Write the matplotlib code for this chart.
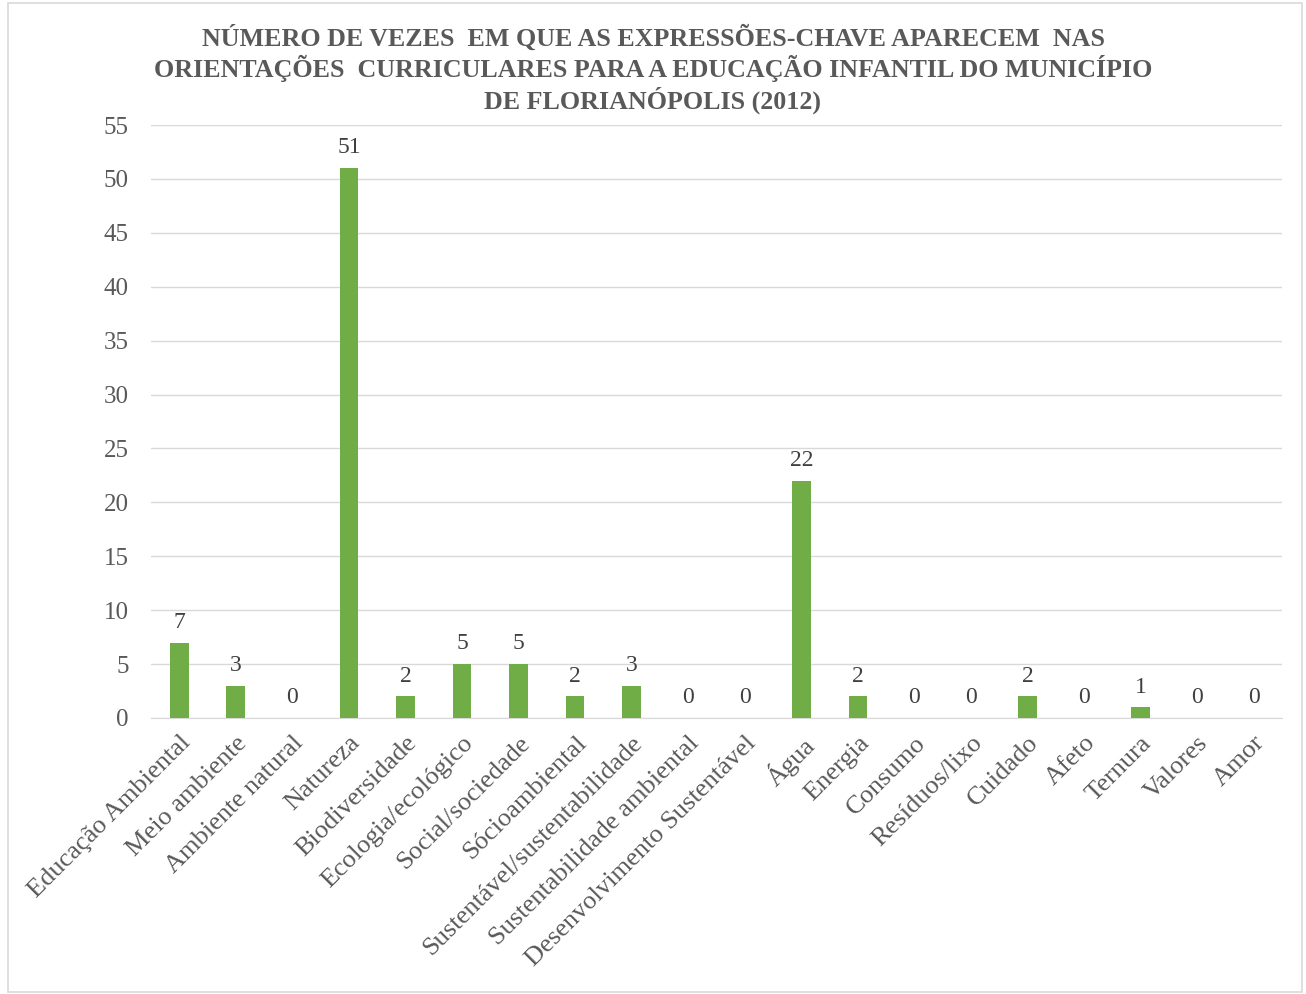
import matplotlib.pyplot as plt
from matplotlib.patches import Rectangle

categorias = ['Educação Ambiental', 'Meio ambiente', 'Ambiente natural', 'Natureza',
              'Biodiversidade', 'Ecologia/ecológico', 'Social/sociedade', 'Sócioambiental',
              'Sustentável/sustentabilidade', 'Sustentabilidade ambiental',
              'Desenvolvimento Sustentável', 'Água', 'Energia', 'Consumo', 'Resíduos/lixo',
              'Cuidado', 'Afeto', 'Ternura', 'Valores', 'Amor']
valores = [7, 3, 0, 51, 2, 5, 5, 2, 3, 0, 0, 22, 2, 0, 0, 2, 0, 1, 0, 0]
yticks = list(range(0, 56, 5))

titulo = ('NÚMERO DE VEZES  EM QUE AS EXPRESSÕES-CHAVE APARECEM  NAS\n'
          'ORIENTAÇÕES  CURRICULARES PARA A EDUCAÇÃO INFANTIL DO MUNICÍPIO\n'
          'DE FLORIANÓPOLIS (2012)')

plt.rcParams['font.family'] = ['Liberation Serif', 'DejaVu Serif']

fig = plt.figure(figsize=(13.06, 9.94), dpi=100)
ax = fig.add_axes([151 / 1306, 1 - 718 / 994, (1282 - 151) / 1306, (718 - 125) / 994])

x = list(range(len(categorias)))
bars = ax.bar(x, valores, width=0.33, color='#70ad47', zorder=3)
for xi, v in zip(x, valores):
    ax.text(xi, v + 0.9, str(v), ha='center', va='bottom', fontsize=17, color='#404040')

ax.set_xlim(-0.5, len(categorias) - 0.5)
ax.set_ylim(0, 55)
ax.set_yticks(yticks)
ax.set_yticklabels([str(t) for t in yticks], fontsize=18, color='#595959')
ax.set_xticks(x)
ax.set_xticklabels(categorias, rotation=45, ha='right', rotation_mode='anchor',
                   fontsize=19, color='#595959')
ax.tick_params(length=0)
ax.tick_params(axis='y', pad=16)
ax.tick_params(axis='x', pad=10)
ax.grid(axis='y', color='#d9d9d9', linewidth=1, zorder=0)
for s in ['top', 'right', 'left']:
    ax.spines[s].set_visible(False)
ax.spines['bottom'].set_color('#d9d9d9')

fig.text(0.5, 1 - 69 / 994, titulo, ha='center', va='center', fontsize=18.7,
         fontweight='bold', color='#595959', linespacing=1.2)

fig.patches.append(Rectangle((8 / 1306, 2 / 994), 1294 / 1306, 989 / 994,
                             transform=fig.transFigure, fill=False,
                             edgecolor='#d9d9d9', linewidth=1.2))

fig.savefig('out.png', dpi=100)
